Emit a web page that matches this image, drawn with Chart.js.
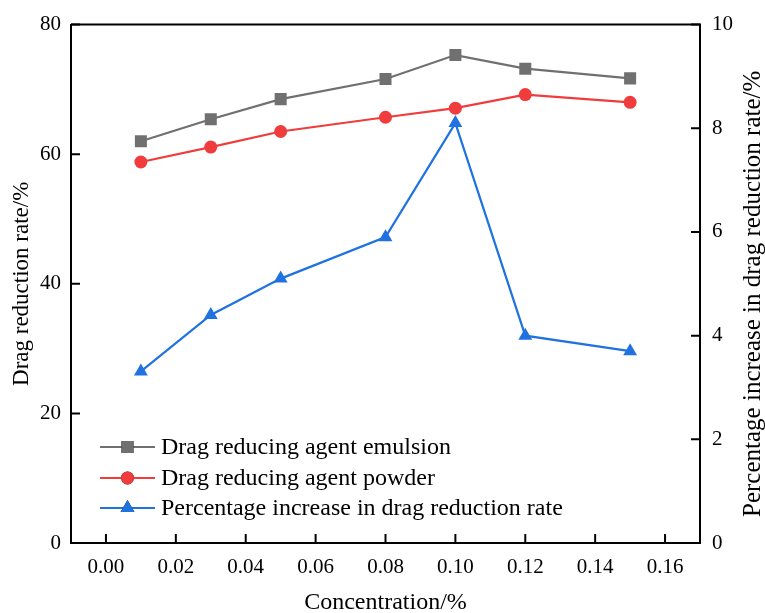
<!DOCTYPE html>
<html>
<head>
<meta charset="utf-8">
<script src="https://cdn.jsdelivr.net/npm/chart.js@4.4.1/dist/chart.umd.min.js"></script>
<style>
html,body{margin:0;padding:0;background:#fff;}
#wrap{width:765px;height:613px;position:relative;}
</style>
</head>
<body>
<div id="wrap"><canvas id="c" width="765" height="613"></canvas></div>
<script>
const concentrations = [0.01, 0.03, 0.05, 0.08, 0.10, 0.12, 0.15];
const emulsion = [62.0, 65.4, 68.5, 71.6, 75.3, 73.2, 71.7];
const powder = [58.8, 61.1, 63.5, 65.7, 67.1, 69.2, 68.0];
const increasePct = [3.31, 4.40, 5.10, 5.90, 8.10, 4.00, 3.70];
const xTicks = [0.00, 0.02, 0.04, 0.06, 0.08, 0.10, 0.12, 0.14, 0.16];
const yLeftTicks = [0, 20, 40, 60, 80];
const yRightTicks = [0, 2, 4, 6, 8, 10];
const seriesLabels = ['Drag reducing agent emulsion', 'Drag reducing agent powder', 'Percentage increase in drag reduction rate'];

const FONT = 'Liberation Serif';
const TICK_SIZE = 21;
const TITLE_SIZE = 23;
const XTITLE_SIZE = 24;
const RTITLE_SIZE = 25;
const LEGEND_SIZE = 24;
const toXY = (ys) => concentrations.map((x, i) => ({x: x, y: ys[i]}));

const frame = {
  id: 'frame',
  afterDraw(chart) {
    const {ctx, chartArea: a, scales} = chart;
    ctx.save();
    ctx.strokeStyle = '#000';
    ctx.lineWidth = 2;
    ctx.beginPath();
    ctx.moveTo(a.left, a.top); ctx.lineTo(a.right, a.top); ctx.lineTo(a.right, a.bottom);
    ctx.stroke();
    const L = 9;
    ctx.beginPath();
    xTicks.forEach(v => { const px = scales.x.getPixelForValue(v); ctx.moveTo(px, a.bottom); ctx.lineTo(px, a.bottom - L); });
    yLeftTicks.forEach(v => { const py = scales.y.getPixelForValue(v); ctx.moveTo(a.left, py); ctx.lineTo(a.left + L, py); });
    yRightTicks.forEach(v => { const py = scales.y2.getPixelForValue(v); ctx.moveTo(a.right, py); ctx.lineTo(a.right - L, py); });
    ctx.stroke();
    // right axis title (reads bottom-to-top)
    ctx.fillStyle = '#000';
    ctx.font = RTITLE_SIZE + 'px "' + FONT + '"';
    ctx.textAlign = 'center';
    ctx.textBaseline = 'middle';
    ctx.translate(753, (a.top + a.bottom) / 2 + 10);
    ctx.rotate(-Math.PI / 2);
    ctx.fillText('Percentage increase in drag reduction rate/%', 0, 0);
    ctx.restore();
    // legend
    ctx.save();
    const rows = [447, 478, 508];
    chart.data.datasets.forEach((ds, i) => {
      const y = rows[i];
      ctx.strokeStyle = ds.borderColor;
      ctx.lineWidth = 2;
      ctx.beginPath(); ctx.moveTo(100, y); ctx.lineTo(155, y); ctx.stroke();
      Chart.helpers.drawPoint(ctx, {pointStyle: ds.pointStyle, radius: ds.pointRadius, borderWidth: 0}, 127.5, y);
      ctx.fillStyle = ds.backgroundColor;
      ctx.fill();
      ctx.fillStyle = '#000';
      ctx.font = LEGEND_SIZE + 'px "' + FONT + '"';
      ctx.textAlign = 'left';
      ctx.textBaseline = 'middle';
      ctx.fillText(ds.label, 161, y + 1);
    });
    ctx.restore();
  }
};

const tickFont = {family: FONT, size: TICK_SIZE};
const titleFont = {family: FONT, size: TITLE_SIZE};

new Chart(document.getElementById('c'), {
  type: 'line',
  data: {
    datasets: [
      {label: seriesLabels[0], data: toXY(emulsion), yAxisID: 'y', borderColor: '#707070', backgroundColor: '#707070',
       pointStyle: 'rect', pointRadius: 8.5, pointBorderWidth: 0, borderWidth: 2.2},
      {label: seriesLabels[1], data: toXY(powder), yAxisID: 'y', borderColor: '#f03c3c', backgroundColor: '#f03c3c',
       pointStyle: 'circle', pointRadius: 6.5, pointBorderWidth: 0, borderWidth: 2.2},
      {label: seriesLabels[2], data: toXY(increasePct), yAxisID: 'y2', borderColor: '#1f72e0', backgroundColor: '#1f72e0',
       pointStyle: 'triangle', pointRadius: 8, pointBorderWidth: 0, borderWidth: 2.2}
    ]
  },
  options: {
    responsive: false,
    animation: false,
    layout: {padding: {top: 23, left: 0, right: 0, bottom: 0}},
    plugins: {legend: {display: false}, tooltip: {enabled: false}},
    scales: {
      x: {
        type: 'linear', min: -0.01, max: 0.17,
        afterBuildTicks: s => { s.ticks = xTicks.map(v => ({value: v})); },
        afterFit: s => { s.height = 70; },
        grid: {display: false, drawTicks: false},
        border: {display: true, color: '#000', width: 2},
        ticks: {font: tickFont, color: '#000', padding: 12, maxRotation: 0, autoSkip: false, callback: v => v.toFixed(2)},
        title: {display: true, text: 'Concentration/%', font: {family: FONT, size: XTITLE_SIZE}, color: '#000', padding: {top: 10, bottom: -4}}
      },
      y: {
        type: 'linear', position: 'left', min: 0, max: 80,
        afterBuildTicks: s => { s.ticks = yLeftTicks.map(v => ({value: v})); },
        afterFit: s => { s.width = 71; },
        grid: {display: false, drawTicks: false},
        border: {display: true, color: '#000', width: 2},
        ticks: {font: tickFont, color: '#000', padding: 10},
        title: {display: true, text: 'Drag reduction rate/%', font: titleFont, color: '#000', padding: {top: 8, bottom: 0}}
      },
      y2: {
        type: 'linear', position: 'right', min: 0, max: 10,
        afterBuildTicks: s => { s.ticks = yRightTicks.map(v => ({value: v})); },
        afterFit: s => { s.width = 65; },
        grid: {display: false, drawTicks: false},
        border: {display: true, color: '#000', width: 2},
        ticks: {font: tickFont, color: '#000', padding: 12}
      }
    }
  },
  plugins: [frame]
});
</script>
</body>
</html>
